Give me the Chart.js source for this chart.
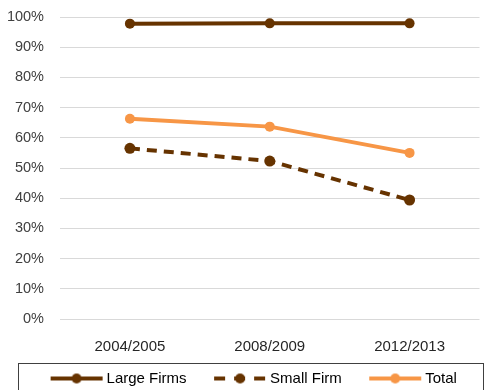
<!DOCTYPE html>
<html>
<head>
<meta charset="utf-8">
<style>
  html, body { margin: 0; padding: 0; background: #fff; }
  #wrap { width: 485px; height: 390px; }
</style>
<script src="https://cdn.jsdelivr.net/npm/chart.js@4/dist/chart.umd.min.js"></script>
</head>
<body>
<div id="wrap"><canvas id="chart"></canvas></div>
<script>
const years = ['2004/2005', '2008/2009', '2012/2013'];
const largeFirms = [97.8, 97.9, 97.9];
const smallFirm = [56.5, 52.3, 39.4];
const total = [66.3, 63.7, 55.0];
const yTicks = [0, 10, 20, 30, 40, 50, 60, 70, 80, 90, 100];

const BROWN = '#663300';
const ORANGE = '#F79646';
const FONT = 'Liberation Sans, Arial, sans-serif';

// legend sample: a short line with a dot in the middle
function legendSample(color, dash) {
    const c = document.createElement('canvas');
    c.width = 80;
    c.height = 14;
    const ctx = c.getContext('2d');
    ctx.strokeStyle = color;
    ctx.lineWidth = 4;
    ctx.setLineDash(dash);
    ctx.beginPath();
    ctx.moveTo(27, 7);
    ctx.lineTo(79, 7);
    ctx.stroke();
    ctx.fillStyle = color;
    ctx.beginPath();
    ctx.arc(53, 7, 5, 0, Math.PI * 2);
    ctx.fill();
    return c;
}

const samples = [
    legendSample(BROWN, []),
    legendSample(BROWN, [11, 9]),
    legendSample(ORANGE, [])
];

const legendBorder = {
    id: 'legendBorder',
    afterDraw(chart) {
        const lg = chart.legend;
        const ctx = chart.ctx;
        ctx.save();
        ctx.strokeStyle = '#404040';
        ctx.lineWidth = 1;
        ctx.strokeRect(18.5, lg.top - 2.5, chart.width - 20, 40);
        ctx.restore();
    }
};

new Chart(document.getElementById('chart'), {
    type: 'line',
    data: {
        labels: years,
        datasets: [{
            label: 'Large Firms',
            data: largeFirms,
            borderColor: BROWN,
            backgroundColor: BROWN,
            borderWidth: 4,
            pointRadius: 5,
            pointBorderWidth: 0
        },
        {
            label: 'Small Firm',
            data: smallFirm,
            borderColor: BROWN,
            backgroundColor: BROWN,
            borderWidth: 4,
            borderDash: [10, 7],
            pointRadius: 5.5,
            pointBorderWidth: 0
        },
        {
            label: 'Total',
            data: total,
            borderColor: ORANGE,
            backgroundColor: ORANGE,
            borderWidth: 4,
            pointRadius: 5,
            pointBorderWidth: 0
        }]
    },
    options: {
        responsive: true,
        maintainAspectRatio: false,
        animation: false,
        layout: { padding: { top: 17, right: 0, bottom: -6, left: 0 } },
        scales: {
            x: {
                offset: true,
                grid: { display: false },
                border: { display: false },
                ticks: { color: '#262626', font: { family: FONT, size: 15 }, padding: 11 },
                afterFit: scale => { scale.height = 47; }
            },
            y: {
                min: 0,
                max: 100,
                afterBuildTicks: scale => { scale.ticks = yTicks.map(v => ({ value: v })); },
                grid: { color: '#d9d9d9', lineWidth: 1, drawTicks: false },
                border: { display: false },
                ticks: {
                    color: '#404040',
                    font: { family: FONT, size: 14.5 },
                    padding: 16,
                    callback: v => v + '%'
                },
                afterFit: scale => {
                    scale.width = 60;
                    scale.paddingTop = 0;
                    scale.paddingBottom = 0;
                }
            }
        },
        plugins: {
            tooltip: { enabled: false },
            legend: {
                position: 'bottom',
                labels: {
                    usePointStyle: true,
                    pointStyleWidth: 71,
                    padding: 5,
                    color: '#000',
                    font: { family: FONT, size: 15 },
                    generateLabels: chart => chart.data.datasets.map((ds, i) => ({
                        text: ds.label,
                        datasetIndex: i,
                        pointStyle: samples[i],
                        fontColor: '#000',
                        lineWidth: 0,
                        hidden: false
                    }))
                }
            }
        }
    },
    plugins: [legendBorder]
});
</script>
</body>
</html>
